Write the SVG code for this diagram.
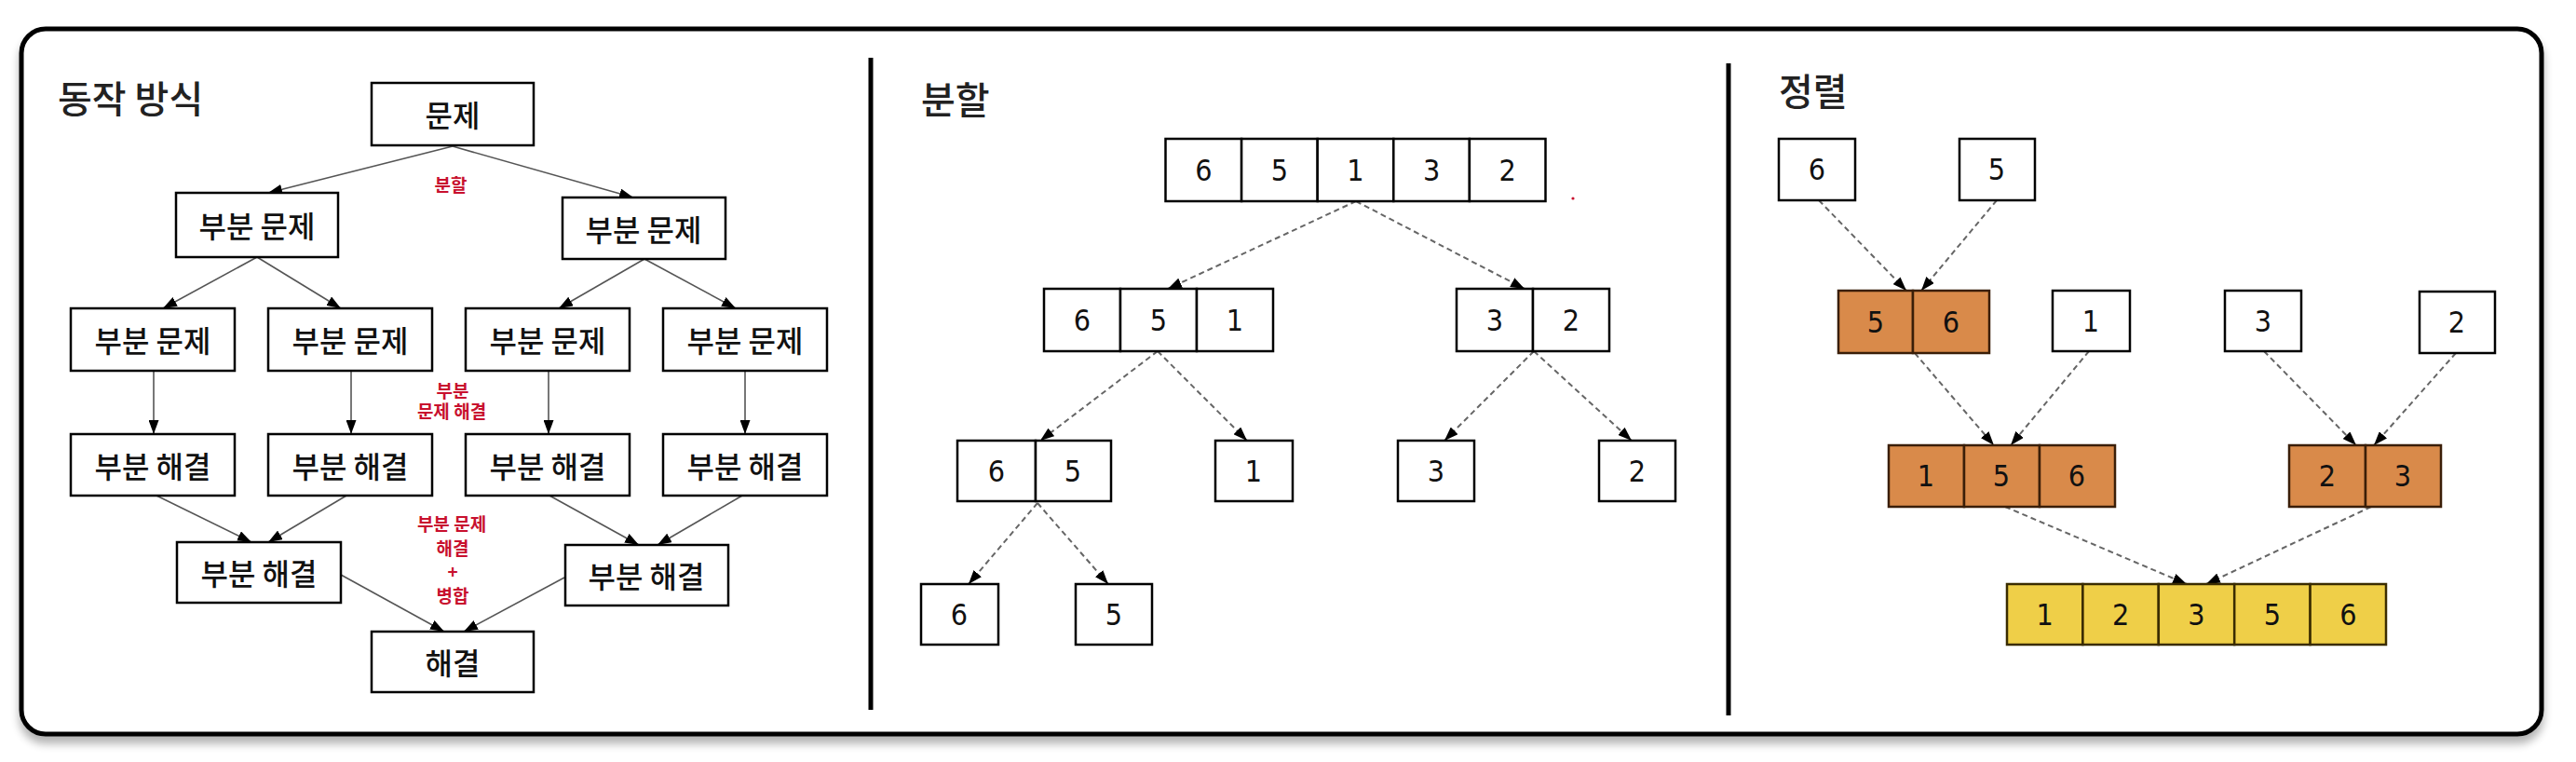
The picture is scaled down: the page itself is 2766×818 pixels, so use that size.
<svg xmlns="http://www.w3.org/2000/svg" width="2766" height="818" viewBox="0 0 2766 818">
<defs>
<style>
.frame{fill:#fff;stroke:#000;stroke-width:5}
.div{stroke:#000;stroke-width:5}
.title{font-family:"Noto Sans CJK KR","Noto Sans",sans-serif;font-size:40px;font-weight:500;fill:#222;dominant-baseline:central}
.box{fill:#fff;stroke:#000;stroke-width:2.5}
.kt{font-family:"Noto Sans CJK KR","Noto Sans",sans-serif;font-size:32px;font-weight:500;fill:#111;text-anchor:middle;dominant-baseline:central}
.num{font-family:"DejaVu Sans Condensed","DejaVu Sans","Liberation Sans",sans-serif;font-stretch:condensed;font-size:32px;fill:#111;text-anchor:middle;dominant-baseline:central}
.cell{fill:#fff;stroke:#000;stroke-width:2.5}
.org{fill:#D98A4A;stroke:#3a1e08;stroke-width:2.5}
.yel{fill:#EFCF48;stroke:#3a2c00;stroke-width:2.5}
.red{font-family:"Noto Sans CJK KR","Noto Sans",sans-serif;font-size:19px;font-weight:bold;fill:#c8102e;text-anchor:middle;dominant-baseline:central}
.solid{stroke:#555;stroke-width:1.6;fill:none;marker-end:url(#ah)}
.dash{stroke:#666;stroke-width:2;stroke-dasharray:6 4;fill:none;marker-end:url(#ah)}
</style>
<marker id="ah" markerUnits="userSpaceOnUse" viewBox="0 0 15 11" refX="15" refY="5.5" markerWidth="15" markerHeight="11" orient="auto">
<path d="M0,0 L15,5.5 L0,11 z" fill="#000"/>
</marker>
<filter id="sh" x="-5%" y="-5%" width="110%" height="115%">
<feGaussianBlur in="SourceAlpha" stdDeviation="5"/>
<feOffset dx="0" dy="8" result="b"/>
<feComponentTransfer><feFuncA type="linear" slope="0.3"/></feComponentTransfer>
<feMerge><feMergeNode/><feMergeNode in="SourceGraphic"/></feMerge>
</filter>
</defs>
<rect width="2766" height="818" fill="#fff"/>
<rect class="frame" x="23" y="31" width="2706" height="757" rx="26" filter="url(#sh)"/>
<line class="div" x1="935" y1="62" x2="935" y2="762"/>
<line class="div" x1="1856" y1="68" x2="1856" y2="768"/>

<text class="title" x="62" y="104">동작 방식</text>
<text class="title" x="989" y="105">분할</text>
<text class="title" x="1910" y="96">정렬</text>

<g id="connectors">
<line class="solid" x1="486" y1="157" x2="288" y2="207"/>
<line class="solid" x1="486" y1="157" x2="680" y2="212"/>
<line class="solid" x1="276" y1="276" x2="175" y2="331"/>
<line class="solid" x1="276" y1="276" x2="366" y2="331"/>
<line class="solid" x1="692" y1="278" x2="600" y2="331"/>
<line class="solid" x1="692" y1="278" x2="790" y2="331"/>
<line class="solid" x1="165" y1="398" x2="165" y2="466"/>
<line class="solid" x1="377" y1="398" x2="377" y2="466"/>
<line class="solid" x1="589" y1="398" x2="589" y2="466"/>
<line class="solid" x1="800" y1="398" x2="800" y2="466"/>
<line class="solid" x1="168" y1="532" x2="270" y2="582"/>
<line class="solid" x1="372" y1="532" x2="288" y2="582"/>
<line class="solid" x1="590" y1="532" x2="686" y2="585"/>
<line class="solid" x1="797" y1="532" x2="706" y2="585"/>
<line class="solid" x1="366" y1="617" x2="477" y2="678"/>
<line class="solid" x1="606" y1="620" x2="498" y2="678"/>

<line class="dash" x1="1456" y1="216" x2="1254" y2="310"/>
<line class="dash" x1="1456" y1="216" x2="1637" y2="310"/>
<line class="dash" x1="1243" y1="377" x2="1117" y2="473"/>
<line class="dash" x1="1243" y1="377" x2="1339" y2="473"/>
<line class="dash" x1="1647" y1="377" x2="1551" y2="473"/>
<line class="dash" x1="1647" y1="377" x2="1752" y2="473"/>
<line class="dash" x1="1114" y1="540" x2="1040" y2="627"/>
<line class="dash" x1="1114" y1="540" x2="1190" y2="627"/>

<line class="dash" x1="1953" y1="215" x2="2047" y2="312"/>
<line class="dash" x1="2144" y1="215" x2="2063" y2="312"/>
<line class="dash" x1="2056" y1="379" x2="2141" y2="478"/>
<line class="dash" x1="2243" y1="377" x2="2159" y2="478"/>
<line class="dash" x1="2431" y1="377" x2="2530" y2="478"/>
<line class="dash" x1="2637" y1="379" x2="2549" y2="478"/>
<line class="dash" x1="2153" y1="544" x2="2348" y2="627"/>
<line class="dash" x1="2546" y1="544" x2="2369" y2="627"/>
</g>

<g id="labels">
<text class="red" x="484" y="197">분할</text>
<text class="red" x="486" y="418">부분</text>
<text class="red" x="485" y="440">문제 해결</text>
<text class="red" x="485" y="561">부분 문제</text>
<text class="red" x="486" y="587">해결</text>
<text class="red" x="486" y="612">+</text>
<text class="red" x="486" y="638">병합</text>
<circle cx="1689" cy="213" r="1.6" fill="#c8102e"/>
</g>

<!-- left panel nodes -->
<g id="n-problem"><rect class="box" x="399" y="89" width="174" height="67"/><text class="kt" x="486" y="122">문제</text></g>
<g id="n-sub-l"><rect class="box" x="189" y="207" width="174" height="69"/><text class="kt" x="276" y="241">부분 문제</text></g>
<g id="n-sub-r"><rect class="box" x="604" y="212" width="175" height="66"/><text class="kt" x="691" y="245">부분 문제</text></g>
<g id="n-sub-1"><rect class="box" x="76" y="331" width="176" height="67"/><text class="kt" x="164" y="364">부분 문제</text></g>
<g id="n-sub-2"><rect class="box" x="288" y="331" width="176" height="67"/><text class="kt" x="376" y="364">부분 문제</text></g>
<g id="n-sub-3"><rect class="box" x="500" y="331" width="176" height="67"/><text class="kt" x="588" y="364">부분 문제</text></g>
<g id="n-sub-4"><rect class="box" x="712" y="331" width="176" height="67"/><text class="kt" x="800" y="364">부분 문제</text></g>
<g id="n-sol-1"><rect class="box" x="76" y="466" width="176" height="66"/><text class="kt" x="164" y="499">부분 해결</text></g>
<g id="n-sol-2"><rect class="box" x="288" y="466" width="176" height="66"/><text class="kt" x="376" y="499">부분 해결</text></g>
<g id="n-sol-3"><rect class="box" x="500" y="466" width="176" height="66"/><text class="kt" x="588" y="499">부분 해결</text></g>
<g id="n-sol-4"><rect class="box" x="712" y="466" width="176" height="66"/><text class="kt" x="800" y="499">부분 해결</text></g>
<g id="n-sol-l"><rect class="box" x="190" y="582" width="176" height="65"/><text class="kt" x="278" y="614">부분 해결</text></g>
<g id="n-sol-r"><rect class="box" x="607" y="585" width="175" height="65"/><text class="kt" x="694" y="617">부분 해결</text></g>
<g id="n-solution"><rect class="box" x="399" y="678" width="174" height="65"/><text class="kt" x="486" y="710">해결</text></g>

<!-- middle panel nodes -->
<g id="d-65132">
<rect class="cell" x="1251.5" y="149" width="81.6" height="67"/>
<rect class="cell" x="1333.1" y="149" width="81.6" height="67"/>
<rect class="cell" x="1414.7" y="149" width="81.6" height="67"/>
<rect class="cell" x="1496.3" y="149" width="81.6" height="67"/>
<rect class="cell" x="1577.9" y="149" width="81.6" height="67"/>
<text class="num" x="1292.3" y="183">6</text><text class="num" x="1373.9" y="183">5</text><text class="num" x="1455.5" y="183">1</text><text class="num" x="1537.1" y="183">3</text><text class="num" x="1618.7" y="183">2</text>
</g>
<g id="d-651">
<rect class="cell" x="1121" y="310" width="82" height="67"/>
<rect class="cell" x="1203" y="310" width="82" height="67"/>
<rect class="cell" x="1285" y="310" width="82" height="67"/>
<text class="num" x="1162" y="344">6</text><text class="num" x="1244" y="344">5</text><text class="num" x="1326" y="344">1</text>
</g>
<g id="d-32">
<rect class="cell" x="1564" y="310" width="82" height="67"/>
<rect class="cell" x="1646" y="310" width="82" height="67"/>
<text class="num" x="1605" y="344">3</text><text class="num" x="1687" y="344">2</text>
</g>
<g id="d-65">
<rect class="cell" x="1028" y="473" width="84" height="65"/>
<rect class="cell" x="1112" y="473" width="81" height="65"/>
<text class="num" x="1070" y="506">6</text><text class="num" x="1152" y="506">5</text>
</g>
<g id="d-1"><rect class="cell" x="1305" y="473" width="83" height="65"/><text class="num" x="1346" y="506">1</text></g>
<g id="d-3"><rect class="cell" x="1501" y="473" width="82" height="65"/><text class="num" x="1542" y="506">3</text></g>
<g id="d-2"><rect class="cell" x="1717" y="473" width="82" height="65"/><text class="num" x="1758" y="506">2</text></g>
<g id="d-6b"><rect class="cell" x="989" y="627" width="83" height="65"/><text class="num" x="1030" y="660">6</text></g>
<g id="d-5b"><rect class="cell" x="1155" y="627" width="82" height="65"/><text class="num" x="1196" y="660">5</text></g>

<!-- right panel nodes -->
<g id="s-6"><rect class="cell" x="1910" y="149" width="82" height="66"/><text class="num" x="1951" y="182">6</text></g>
<g id="s-5"><rect class="cell" x="2104" y="149" width="81" height="66"/><text class="num" x="2144" y="182">5</text></g>
<g id="s-56">
<rect class="org" x="1974" y="312" width="80" height="67"/>
<rect class="org" x="2054" y="312" width="82" height="67"/>
<text class="num" x="2014" y="346">5</text><text class="num" x="2095" y="346">6</text>
</g>
<g id="s-1"><rect class="cell" x="2204" y="312" width="83" height="65"/><text class="num" x="2245" y="345">1</text></g>
<g id="s-3"><rect class="cell" x="2389" y="312" width="82" height="65"/><text class="num" x="2430" y="345">3</text></g>
<g id="s-2"><rect class="cell" x="2598" y="313" width="81" height="66"/><text class="num" x="2638" y="346">2</text></g>
<g id="s-156">
<rect class="org" x="2028" y="478" width="81" height="66"/>
<rect class="org" x="2109" y="478" width="81" height="66"/>
<rect class="org" x="2190" y="478" width="81" height="66"/>
<text class="num" x="2068" y="511">1</text><text class="num" x="2149" y="511">5</text><text class="num" x="2230" y="511">6</text>
</g>
<g id="s-23">
<rect class="org" x="2458" y="478" width="82" height="66"/>
<rect class="org" x="2540" y="478" width="81" height="66"/>
<text class="num" x="2499" y="511">2</text><text class="num" x="2580" y="511">3</text>
</g>
<g id="s-12356">
<rect class="yel" x="2155" y="627" width="81.4" height="65"/>
<rect class="yel" x="2236.4" y="627" width="81.4" height="65"/>
<rect class="yel" x="2317.8" y="627" width="81.4" height="65"/>
<rect class="yel" x="2399.2" y="627" width="81.4" height="65"/>
<rect class="yel" x="2480.6" y="627" width="81.4" height="65"/>
<text class="num" x="2195.7" y="660">1</text><text class="num" x="2277.1" y="660">2</text><text class="num" x="2358.5" y="660">3</text><text class="num" x="2439.9" y="660">5</text><text class="num" x="2521.3" y="660">6</text>
</g>
</svg>
